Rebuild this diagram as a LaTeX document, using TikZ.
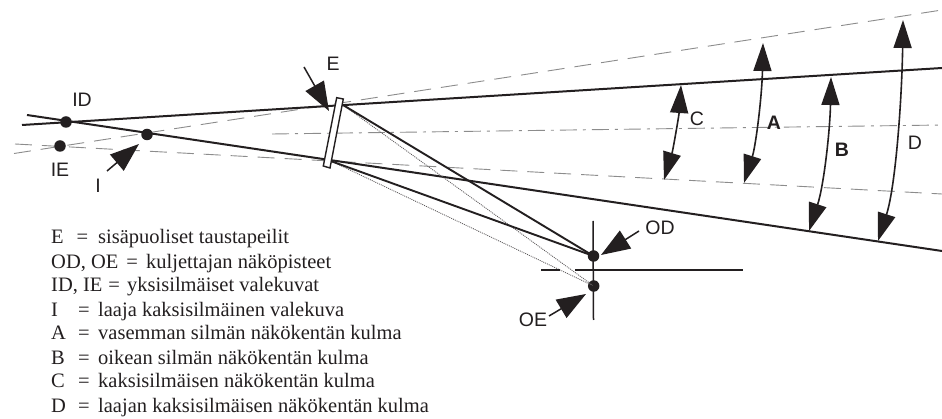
\documentclass[tikz,border=0pt]{standalone}
\usepackage{fontspec}
\setmainfont{Liberation Sans}
\newfontfamily\lgdfont{Liberation Serif}
\usetikzlibrary{arrows.meta}
\definecolor{ink}{HTML}{231F20}
\definecolor{guide}{HTML}{8C8C8C}
\tikzset{
  solidray/.style={draw=ink,line width=2pt},
  thinray/.style={draw=ink,line width=1.9pt},
  dashray/.style={draw=guide,line width=0.9pt,dash pattern=on 17pt off 10pt},
  axisray/.style={draw=guide,line width=0.9pt,dash pattern=on 17pt off 6pt on 3pt off 6pt},
  dotray/.style={draw=ink!75,line width=0.8pt,dash pattern=on 1pt off 1pt},
  crossline/.style={draw=ink,line width=1.5pt},
  eyedot/.style={circle,fill=ink,draw=none,minimum size=11.5pt,inner sep=0pt},
  pointer/.style={draw=ink,line width=1.5pt,-{Triangle[length=29pt,width=21pt]}},
  span/.style={draw=ink,line width=1.6pt,{Triangle[length=28pt,width=18pt]}-{Triangle[length=28pt,width=18pt]}},
  mirrorbox/.style={draw=ink,fill=white,line width=1.4pt},
  lab/.style={font=\fontsize{19.5}{19.5}\selectfont,text=ink,inner sep=0pt},
  lgd/.style={font=\lgdfont\fontsize{20.5}{20.5}\selectfont,text=ink,inner sep=0pt,anchor=base west},
}
\begin{document}
\begin{tikzpicture}[x=1pt,y=-1pt]
\useasboundingbox[fill=white] (0,0) rectangle (942,419);
% free ends
\coordinate (upL) at (22,125);
\coordinate (upR) at (942,68);
\coordinate (loL) at (27,115);
\coordinate (loR) at (942,251);
\coordinate (daL) at (14,153.5);
\coordinate (daR) at (942,10);
\coordinate (dbL) at (15,144);
\coordinate (dbR) at (942,194);
\coordinate (axL) at (272,134);
\coordinate (axR) at (942,125);
\coordinate (mU) at (343,105);
\coordinate (mL) at (332,161.5);
\coordinate (vT) at (593,221);
\coordinate (vB) at (593.5,320);
\coordinate (hL) at (541,270);
\coordinate (hA) at (560,270);
\coordinate (hB) at (575,270);
\coordinate (hR) at (743,270);
% guides
\draw[dashray] (daL) -- (daR);
\draw[dashray] (dbL) -- (dbR);
\draw[axisray] (axL) -- (axR);
% main rays
\draw[solidray] (upL) -- (upR);
\draw[solidray] (loL) -- (loR);
% dots
\node[eyedot] (ID) at (66,122) {};
\node[eyedot] (IE) at (60,146) {};
\node[eyedot] (I) at (147,134.5) {};
\node[eyedot] (OD) at (593.5,256) {};
\node[eyedot] (OE) at (593.7,286) {};
% reflected rays
\draw[dotray] (mU) -- (OE.center);
\draw[dotray] (mL) -- (OE.center);
\draw[thinray] (mU) -- (OD.center);
\draw[thinray] (mL) -- (OD.center);
% cross
\draw[crossline] (vT) -- (vB);
\draw[crossline] (hL) -- (hA);
\draw[crossline] (hB) -- (hR);
% mirror
\draw[mirrorbox] (336.7,97.7) -- (343.3,99) -- (330,168) -- (323.3,166) -- cycle;
% pointers
\coordinate (pE) at (304,67);
\coordinate (tE) at (329,111);
\coordinate (pI) at (107,171);
\coordinate (tI) at (139,144);
\coordinate (pOD) at (639,231);
\coordinate (tOD) at (601,255);
\coordinate (pOE) at (549,316);
\coordinate (tOE) at (586,294);
\draw[pointer] (pE) -- (tE);
\draw[pointer] (pI) -- (tI);
\draw[pointer] (pOD) -- (tOD);
\draw[pointer] (pOE) -- (tOE);
% angle spans
\coordinate (Ct) at (681,85);
\coordinate (Cb) at (664,180);
\coordinate (At) at (763,43);
\coordinate (Ab) at (744,183);
\coordinate (Bt) at (831,77);
\coordinate (Bb) at (809,231);
\coordinate (Dt) at (903,20);
\coordinate (Db) at (878,241);
\draw[span] (Ct) .. controls (679,115) and (673,150) .. (Cb);
\draw[span] (At) .. controls (762,95) and (756,145) .. (Ab);
\draw[span] (Bt) .. controls (830,130) and (824,185) .. (Bb);
\draw[span] (Dt) .. controls (902,95) and (896,185) .. (Db);
% labels
\node[lab] (lID) at (82,100) {ID};
\node[lab] (lIE) at (60,170) {IE};
\node[lab] (lI) at (98,186) {I};
\node[lab] (lE) at (333,64) {E};
\node[lab] (lC) at (697,119) {C};
\node[lab,font=\fontsize{19.5}{19.5}\selectfont\bfseries] (lA) at (774,123) {A};
\node[lab,font=\fontsize{19.5}{19.5}\selectfont\bfseries] (lB) at (842,150) {B};
\node[lab] (lD) at (915,143) {D};
\node[lab] (lOD) at (660,228) {OD};
\node[lab] (lOE) at (533,320) {OE};
% legend
\node[lgd] (k1) at (51,244) {\makebox[47pt][l]{E\hspace{13pt}=}sisäpuoliset taustapeilit};
\node[lgd] (k2) at (51,269) {\makebox[95pt][l]{OD, OE\hspace{8pt}=}kuljettajan näköpisteet};
\node[lgd] (k3) at (51,292) {\makebox[76pt][l]{ID, IE\hspace{6pt}=}yksisilmäiset valekuvat};
\node[lgd] (k4) at (51,317) {\makebox[27pt][l]{I}\makebox[20pt][l]{=}laaja kaksisilmäinen valekuva};
\node[lgd] (k5) at (51,340) {\makebox[27pt][l]{A}\makebox[20pt][l]{=}vasemman silmän näkökentän kulma};
\node[lgd] (k6) at (51,364) {\makebox[27pt][l]{B}\makebox[20pt][l]{=}oikean silmän näkökentän kulma};
\node[lgd] (k7) at (51,388) {\makebox[27pt][l]{C}\makebox[20pt][l]{=}kaksisilmäisen näkökentän kulma};
\node[lgd] (k8) at (51,412) {\makebox[27pt][l]{D}\makebox[20pt][l]{=}laajan kaksisilmäisen näkökentän kulma};
\end{tikzpicture}
\end{document}
